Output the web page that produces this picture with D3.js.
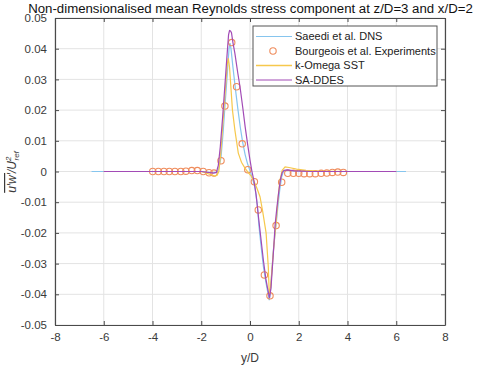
<!DOCTYPE html>
<html><head><meta charset="utf-8">
<script src="https://cdn.jsdelivr.net/npm/d3@7"></script>
<style>
body{margin:0;background:#fff;}
svg text{font-family:"Liberation Sans",Arial,sans-serif;}
</style></head>
<body><svg id="c" width="480" height="369"></svg>
<script>
const titleText = "Non-dimensionalised mean Reynolds stress component at z/D=3 and x/D=2";
const xTicks = [-8,-6,-4,-2,0,2,4,6,8];
const yTicks = [-0.05,-0.04,-0.03,-0.02,-0.01,0,0.01,0.02,0.03,0.04,0.05];
const seriesNames = ["Saeedi et al. DNS","Bourgeois et al. Experiments","k-Omega SST","SA-DDES"];

const dnsX = [-6.5,-4,-2,-1.5,-1.35,-1.28,-1.19,-1.1,-1.03,-0.93,-0.86,-0.82,-0.78,-0.7,-0.6,-0.5,-0.4,-0.3,-0.2,-0.1,0,0.07,0.2,0.3,0.37,0.45,0.55,0.65,0.72,0.79,0.85,0.9,0.96,1.02,1.09,1.15,1.22,1.3,1.38,1.5,1.8,2.5,4,6.4];
const dnsY = [0,0,0,-0.0004,-0.0003,0.001,0.0045,0.013,0.021,0.032,0.040,0.0418,0.040,0.034,0.027,0.0205,0.0145,0.0095,0.0055,0.0025,0.0003,-0.0015,-0.005,-0.011,-0.018,-0.024,-0.031,-0.036,-0.039,-0.0419,-0.038,-0.032,-0.0256,-0.021,-0.0158,-0.011,-0.006,-0.0017,0.0002,0.0004,0.0002,0,0,0];

const expX = [-3.99,-3.76,-3.53,-3.31,-3.08,-2.84,-2.63,-2.39,-2.16,-1.92,-1.68,-1.48,-1.19,-1.03,-0.75,-0.55,-0.32,-0.09,0.18,0.34,0.59,0.82,1.07,1.30,1.55,1.78,2.0,2.22,2.45,2.68,2.92,3.15,3.38,3.6,3.83];
const expY = [0,0,0,0,0,0,0.0001,0.0003,0.0003,0,-0.0004,-0.0005,0.0035,0.0213,0.042,0.0276,0.009,0.0006,-0.0033,-0.0125,-0.0337,-0.0405,-0.0176,-0.0035,-0.0006,-0.0006,-0.0006,-0.0007,-0.0007,-0.0007,-0.0006,-0.0005,-0.0003,-0.0002,-0.0003];

const komX = [-6,-4,-2,-1.6,-1.45,-1.35,-1.28,-1.2,-1.1,-1.0,-0.93,-0.89,-0.84,-0.78,-0.72,-0.62,-0.48,-0.35,-0.2,-0.07,0.05,0.2,0.3,0.41,0.52,0.66,0.75,0.79,0.84,0.89,0.98,1.09,1.16,1.23,1.32,1.44,1.6,1.91,2.3,2.8,4,6];
const komY = [0,0,0,-0.001,-0.0015,-0.0012,0,0.006,0.017,0.028,0.035,0.0369,0.034,0.027,0.020,0.0135,0.006,0.003,0.001,-0.0004,-0.0015,-0.0038,-0.0058,-0.0082,-0.013,-0.020,-0.031,-0.0398,-0.038,-0.033,-0.024,-0.0147,-0.008,-0.0028,0.0004,0.0015,0.0013,0.0008,0.0004,0.0001,0,0];

const saX = [-6,-4,-2,-1.5,-1.38,-1.3,-1.22,-1.12,-1.03,-0.95,-0.88,-0.84,-0.8,-0.76,-0.7,-0.62,-0.5,-0.41,-0.3,-0.2,-0.1,0,0.08,0.16,0.25,0.35,0.45,0.55,0.65,0.72,0.8,0.86,0.92,0.98,1.03,1.1,1.18,1.25,1.32,1.4,1.55,1.8,2.5,4,6];
const saY = [0,0,0,-0.0005,-0.0003,0.002,0.008,0.018,0.028,0.037,0.0445,0.0459,0.0458,0.0452,0.042,0.0385,0.032,0.0276,0.021,0.0146,0.009,0.0037,0,-0.003,-0.0075,-0.015,-0.022,-0.029,-0.035,-0.038,-0.0412,-0.038,-0.031,-0.024,-0.0174,-0.012,-0.0065,-0.0025,-0.0003,0.0004,0.0005,0.0002,0,0,0];

const colors = {dns:"#86c5ee", exp:"#ef8c5c", kom:"#f6c84c", sa:"#a24bb6"};

const W=480,H=369, L=55,R=445,T=18,B=325;
const svg = d3.select("#c");
const x = d3.scaleLinear().domain([-8,8]).range([L,R]);
const y = d3.scaleLinear().domain([-0.05,0.05]).range([B,T]);

// grid
const g = svg.append("g");
g.selectAll(".gx").data(xTicks).join("line").attr("x1",d=>x(d)).attr("x2",d=>x(d)).attr("y1",T).attr("y2",B).attr("stroke","#e3e3e3").attr("stroke-width",1);
g.selectAll(".gy").data(yTicks).join("line").attr("y1",d=>y(d)).attr("y2",d=>y(d)).attr("x1",L).attr("x2",R).attr("stroke","#e3e3e3").attr("stroke-width",1);

// axes
const fmtY = d => d===0 ? "0" : d3.format(".2f")(d).replace("−","-");
const axB = d3.axisBottom(x).tickValues(xTicks).tickSizeInner(-4).tickSizeOuter(0).tickPadding(8).tickFormat(d=>String(d));
const axL = d3.axisLeft(y).tickValues(yTicks).tickSizeInner(-4).tickSizeOuter(0).tickPadding(8).tickFormat(fmtY);
const axT = d3.axisTop(x).tickValues(xTicks).tickSizeInner(-4).tickSizeOuter(0).tickFormat("");
const axR = d3.axisRight(y).tickValues(yTicks).tickSizeInner(-4).tickSizeOuter(0).tickFormat("");
function style(sel){
  sel.selectAll("path").attr("stroke","#4a4a4a").attr("stroke-width",1.2);
  sel.selectAll("line").attr("stroke","#4a4a4a");
  sel.selectAll("text").attr("fill","#3a3a3a").attr("font-size","11.5px").attr("font-family","Liberation Sans, Arial, sans-serif");
}

// data lines
const line = d3.line().x(d=>x(d[0])).y(d=>y(d[1]));
const plot = svg.append("g");
plot.append("path").datum(dnsX.map((v,i)=>[v,dnsY[i]])).attr("d",line).attr("fill","none").attr("stroke",colors.dns).attr("stroke-width",1.2);
plot.selectAll("circle.exp").data(expX.map((v,i)=>[v,expY[i]])).join("circle").attr("cx",d=>x(d[0])).attr("cy",d=>y(d[1])).attr("r",3.2).attr("fill","none").attr("stroke",colors.exp).attr("stroke-width",1.1);
plot.append("path").datum(komX.map((v,i)=>[v,komY[i]])).attr("d",line).attr("fill","none").attr("stroke",colors.kom).attr("stroke-width",1.2);
plot.append("path").datum(saX.map((v,i)=>[v,saY[i]])).attr("d",line).attr("fill","none").attr("stroke",colors.sa).attr("stroke-width",1.2);

svg.append("g").attr("transform",`translate(0,${B})`).call(axB).call(style);
svg.append("g").attr("transform",`translate(${L},0)`).call(axL).call(style);
svg.append("g").attr("transform",`translate(0,${T})`).call(axT).call(style);
svg.append("g").attr("transform",`translate(${R},0)`).call(axR).call(style);

// title, sized to span the reference's width
const tt = svg.append("text").attr("x",250.5).attr("y",13).attr("text-anchor","middle").attr("font-size","14px").attr("fill","#111").text(titleText);
const tw = tt.node().getComputedTextLength();
tt.attr("font-size", (14*445/tw).toFixed(2)+"px");
// x label
svg.append("text").attr("x",250).attr("y",362).attr("text-anchor","middle").attr("font-size","12px").attr("fill","#3a3a3a").text("y/D");
// y label
const yl = svg.append("text").attr("transform","translate(16,172) rotate(-90)").attr("text-anchor","middle").attr("font-family","Liberation Serif, 'DejaVu Serif', serif").attr("font-style","italic").attr("font-size","12px").attr("fill","#3a3a3a");
yl.append("tspan").attr("text-decoration","overline").text("u\u2032w\u2032");
yl.append("tspan").text("/U");
yl.append("tspan").attr("font-size","8px").attr("dy","-5").text("2");
yl.append("tspan").attr("font-size","8px").attr("dx","-4").attr("dy","8").text("ref");

// legend
const lg = svg.append("g");
lg.append("rect").attr("x",253).attr("y",26).attr("width",184).attr("height",60).attr("fill","#fff").attr("stroke","#555").attr("stroke-width",1);
const ly = [36.5,51,65.5,80];
const keys = ["dns","exp","kom","sa"];
keys.forEach((k,i)=>{
  if(k==="exp"){
    lg.append("circle").attr("cx",273).attr("cy",ly[i]).attr("r",3.2).attr("fill","none").attr("stroke",colors.exp).attr("stroke-width",1.1);
  } else {
    lg.append("line").attr("x1",256).attr("x2",292).attr("y1",ly[i]).attr("y2",ly[i]).attr("stroke",colors[k]).attr("stroke-width",k==="kom"?1.6:1.2);
  }
  lg.append("text").attr("x",295).attr("y",ly[i]).attr("dy","0.35em").attr("font-size","11px").attr("fill","#222").text(seriesNames[i]);
});
</script></body></html>
